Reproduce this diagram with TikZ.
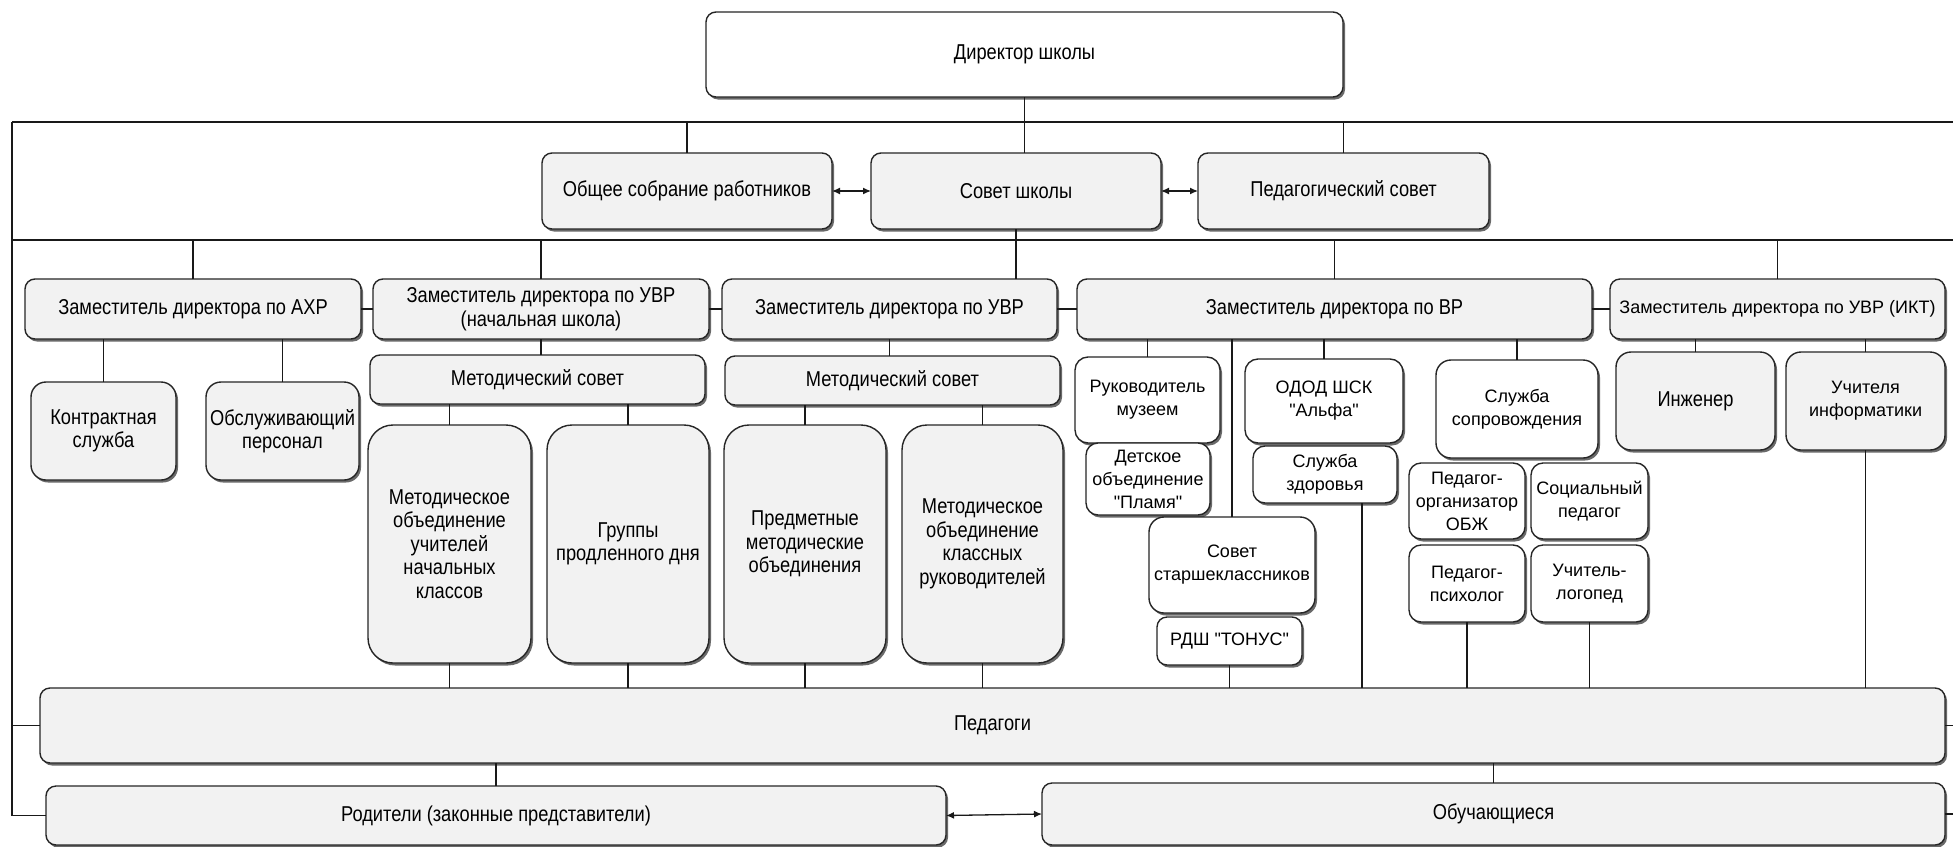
\documentclass[tikz,border=0pt]{standalone}
\usepackage{fontspec}
\newfontfamily\rfont{Liberation Sans}
\newfontfamily\nfont[FakeStretch=0.85]{Liberation Sans}
\usetikzlibrary{shadows,arrows.meta}
\newcommand{\nsz}{\nfont\fontsize{21.5}{23.5}\selectfont}
\newcommand{\rsz}{\rfont\fontsize{18}{23}\selectfont}
\tikzset{
 box/.style={draw=black!85, line width=1.4pt, rounded corners=10pt, fill=black!5, align=center,
   inner sep=0pt, outer sep=0pt,
   drop shadow={shadow xshift=2pt, shadow yshift=-2.5pt, fill=black!65, opacity=0.9}, font=\nsz},
 dbox/.style={box, fill=white},
 sbox/.style={box, font=\rsz},
 wbox/.style={box, fill=white, font=\rsz},
 conn/.style={line width=1.3pt, draw=black!90},
 dbl/.style={conn, {Latex[length=8pt,width=7pt]}-{Latex[length=8pt,width=7pt]}},
}
\newcommand{\bx}[7][box]{\node[#1, anchor=north west, minimum width={(#5-#3)*1pt}, minimum height={(#6-#4)*1pt}] (#2) at (#3,#4) {#7};}
\begin{document}
\begin{tikzpicture}[x=1pt,y=-1pt]
\useasboundingbox[fill=white] (0,0) rectangle (1953,846);
% nodes
\bx[dbox]{dir}{706}{12}{1343}{97}{Директор школы}
\bx{obsh}{542}{153}{832}{229}{Общее собрание работников}
\bx{sovet}{871}{153}{1161}{229}{Совет школы}
\bx{pedsov}{1198}{153}{1489}{229}{Педагогический совет}
\bx{ahr}{25}{279}{361}{339}{Заместитель директора по АХР}
\bx{uvr1}{373}{279}{709}{339}{Заместитель директора по УВР\\(начальная школа)}
\bx{uvr2}{722}{279}{1057}{339}{Заместитель директора по УВР}
\bx{vr}{1077}{279}{1592}{339}{Заместитель директора по ВР}
\bx[sbox]{ikt}{1610}{279}{1945}{339}{Заместитель директора по УВР (ИКТ)}
\bx[box, rounded corners=15pt]{kontr}{31}{382}{176}{480}{Контрактная\\служба}
\bx[box, rounded corners=15pt]{obsl}{206}{382}{359}{480}{Обслуживающий\\персонал}
\bx{ms1}{370}{355}{705}{404}{Методический совет}
\bx{ms2}{725}{356}{1060}{405}{Методический совет}
\bx[box, rounded corners=25pt]{mo1}{368}{425}{531}{663}{Методическое\\объединение\\учителей\\начальных\\классов}
\bx[box, rounded corners=25pt]{gpd}{547}{425}{709}{663}{Группы\\продленного дня}
\bx[box, rounded corners=25pt]{pmo}{724}{425}{886}{663}{Предметные\\методические\\объединения}
\bx[box, rounded corners=25pt]{mo2}{902}{425}{1063}{663}{Методическое\\объединение\\классных\\руководителей}
\bx[wbox, rounded corners=13pt]{ruk}{1075}{357}{1220}{443}{Руководитель\\музеем}
\bx[wbox, rounded corners=12pt]{plam}{1086}{443}{1210}{515}{Детское\\объединение\\"Пламя"}
\bx[wbox, rounded corners=13pt]{odod}{1245}{359}{1403}{443}{ОДОД ШСК\\"Альфа"}
\bx[wbox, rounded corners=12pt]{zdor}{1253}{446}{1397}{503}{Служба\\здоровья}
\bx[wbox, rounded corners=15pt]{sst}{1149}{517}{1315}{613}{Совет\\старшеклассников}
\bx[wbox, rounded corners=10pt]{rdsh}{1157}{617}{1302}{665}{РДШ "ТОНУС"}
\bx[wbox, rounded corners=15pt]{ssopr}{1436}{360}{1598}{458}{Служба\\сопровождения}
\bx[wbox, rounded corners=12pt]{obzh}{1409}{463}{1525}{539}{Педагог-\\организатор\\ОБЖ}
\bx[wbox, rounded corners=12pt]{socped}{1531}{463}{1648}{539}{Социальный\\педагог}
\bx[wbox, rounded corners=12pt]{psih}{1409}{545}{1525}{622}{Педагог-\\психолог}
\bx[wbox, rounded corners=12pt]{logo}{1531}{545}{1648}{622}{Учитель-\\логопед}
\bx[box, rounded corners=15pt]{inzh}{1616}{352}{1775}{450}{Инженер}
\bx[sbox, rounded corners=15pt]{uinf}{1786}{352}{1945}{450}{Учителя\\информатики}
\bx{ped}{40}{688}{1945}{763}{Педагоги}
\bx{rod}{46}{786}{946}{845}{Родители (законные представители)}
\bx{obuch}{1042}{783}{1945}{845}{Обучающиеся}
% bus coordinates
\coordinate (LT) at (12,122);
\coordinate (RT) at (1953,122);
\coordinate (LM) at (12,240);
\coordinate (RM) at (1953,240);
\coordinate (z1) at ([xshift=37pt]zdor.south);
% connectors
\draw[conn] (LT) -- (RT);
\draw[conn, line width=2pt] (LM) -- (RM);
\draw[conn] (LT) -- (LT |- rod.west);
\draw[conn] (LT |- ped.west) -- (ped.west);
\draw[conn] (LT |- rod.west) -- (rod.west);
\draw[conn] (ped.east) -- (ped.east -| RT);
\draw[conn] (obuch.east) -- (obuch.east -| RT);
\draw[conn] (dir.south) -- (dir.south |- sovet.north);
\draw[conn] (obsh.north) -- (obsh.north |- LT);
\draw[conn] (pedsov.north) -- (pedsov.north |- LT);
\draw[conn] (sovet.south) -- (sovet.south |- uvr2.north);
\draw[dbl] (obsh.east) -- (sovet.west);
\draw[dbl] (sovet.east) -- (pedsov.west);
\draw[conn] (ahr.north) -- (ahr.north |- LM);
\draw[conn] (uvr1.north) -- (uvr1.north |- LM);
\draw[conn] (vr.north) -- (vr.north |- LM);
\draw[conn] (ikt.north) -- (ikt.north |- LM);
\draw[conn] (ahr.east) -- (uvr1.west);
\draw[conn] (uvr1.east) -- (uvr2.west);
\draw[conn] (uvr2.east) -- (vr.west);
\draw[conn] (vr.east) -- (ikt.west);
\draw[conn] (kontr.north) -- (kontr.north |- ahr.south);
\draw[conn] (obsl.north) -- (obsl.north |- ahr.south);
\draw[conn] (uvr1.south) -- (uvr1.south |- ms1.north);
\draw[conn] (mo1.north) -- (mo1.north |- ms1.south);
\draw[conn] (gpd.north) -- (gpd.north |- ms1.south);
\draw[conn] (uvr2.south) -- (uvr2.south |- ms2.north);
\draw[conn] (pmo.north) -- (pmo.north |- ms2.south);
\draw[conn] (mo2.north) -- (mo2.north |- ms2.south);
\foreach \n in {mo1,gpd,pmo,mo2,rdsh,psih,logo,uinf}
  \draw[conn] (\n.south) -- (\n.south |- ped.north);
\draw[conn] (z1) -- (z1 |- ped.north);
\draw[conn] (ruk.north) -- (ruk.north |- vr.south);
\draw[conn] (sst.north) -- (sst.north |- vr.south);
\draw[conn] (odod.north) -- (odod.north |- vr.south);
\draw[conn] (ssopr.north) -- (ssopr.north |- vr.south);
\draw[conn] (inzh.north) -- (inzh.north |- ikt.south);
\draw[conn] (uinf.north) -- (uinf.north |- ikt.south);
\draw[conn] (ped.south -| rod.north) -- (rod.north);
\draw[conn] (ped.south -| obuch.north) -- (obuch.north);
\draw[dbl] (rod.east) -- (obuch.west);
\end{tikzpicture}
\end{document}
